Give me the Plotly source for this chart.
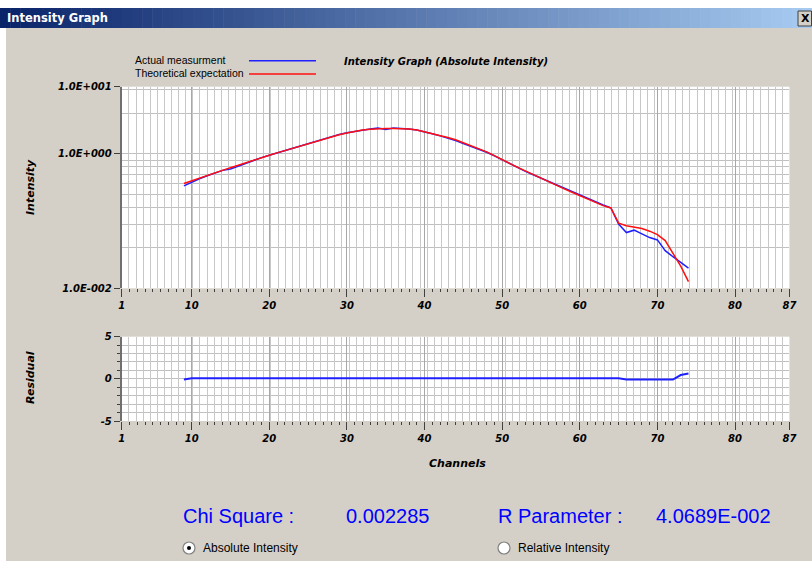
import plotly.graph_objects as go

# ---------------- data ----------------
CHANNELS = list(range(9, 75))

ACTUAL = [0.335, 0.380, 0.427, 0.473, 0.525, 0.569, 0.596, 0.661, 0.733, 0.813,
          0.881, 0.955, 1.035, 1.122, 1.216, 1.318, 1.429, 1.549, 1.679, 1.799,
          1.950, 2.065, 2.173, 2.280, 2.355, 2.427, 2.317, 2.427, 2.410, 2.344,
          2.265, 2.138, 1.995, 1.854, 1.730, 1.585, 1.429, 1.294, 1.175, 1.059,
          0.933, 0.813, 0.716, 0.624, 0.550, 0.490, 0.437, 0.385, 0.343, 0.305,
          0.275, 0.248, 0.221, 0.197, 0.174, 0.158, 0.0902, 0.0676, 0.0733, 0.0646,
          0.0569, 0.0525, 0.0363, 0.0295, 0.0240, 0.0200]

THEORETICAL = [0.363, 0.398, 0.437, 0.484, 0.531, 0.575, 0.624, 0.676, 0.741, 0.813,
               0.881, 0.955, 1.035, 1.122, 1.216, 1.318, 1.419, 1.531, 1.660, 1.786,
               1.928, 2.051, 2.163, 2.265, 2.328, 2.371, 2.388, 2.388, 2.377, 2.344,
               2.265, 2.138, 2.004, 1.862, 1.758, 1.622, 1.472, 1.334, 1.202, 1.072,
               0.944, 0.813, 0.716, 0.631, 0.556, 0.490, 0.437, 0.385, 0.343, 0.302,
               0.269, 0.240, 0.211, 0.191, 0.170, 0.157, 0.0933, 0.0851, 0.0813, 0.0776,
               0.0708, 0.0631, 0.0513, 0.0339, 0.0214, 0.0126]

RESIDUAL = [-0.08] + [0.07] * 56 + [-0.08] * 7 + [0.45, 0.63]

X_TICKS = [1, 10, 20, 30, 40, 50, 60, 70, 80, 87]
Y_TICKS = [0.01, 1, 10]
Y_TICK_TEXT = ["1.0E-002", "1.0E+000", "1.0E+001"]
RES_TICKS = [-5, 0, 5]
RES_TICK_TEXT = ["-5", "0", "5"]

CHI_SQUARE = "0.002285"
R_PARAMETER = "4.0689E-002"

# ---------------- layout helpers ----------------
W, H = 812, 561


def fx(x):
    return x / W


def fy(y):
    return 1 - y / H


X_L, X_R = 121.8, 789.4
TOP_T, TOP_B = 86.7, 288.3
RES_T, RES_B = 336.7, 421.0

GRAY = "#d4d0c8"
GRID = "#c8c8c8"
GRID_H = "#c0c0c0"
GRID_MAJ = "#a8a8a8"
TICKC = "#404040"
BLUE = "#2020ff"
RED = "#ff1010"

TF = dict(family="DejaVu Sans", size=10, color="black", weight="bold", style="italic")

# grid-only positions (styling of the peculiar original grid)
Y_GRID_TOP = [0.01 * k * k for k in range(2, 10)] + [k * k for k in (2, 3)]

fig = go.Figure()

fig.add_trace(go.Scatter(x=CHANNELS, y=ACTUAL, mode="lines", xaxis="x", yaxis="y",
                         line=dict(color=BLUE, width=1.5), name="Actual measurment",
                         showlegend=False))
fig.add_trace(go.Scatter(x=CHANNELS, y=THEORETICAL, mode="lines", xaxis="x", yaxis="y",
                         line=dict(color=RED, width=1.5), name="Theoretical expectation",
                         showlegend=False))
fig.add_trace(go.Scatter(x=CHANNELS, y=RESIDUAL, mode="lines", xaxis="x2", yaxis="y2",
                         line=dict(color=BLUE, width=2), name="Residual", showlegend=False))
# carriers for the grid-only overlay axes
fig.add_trace(go.Scatter(x=[CHANNELS[0]], y=[None], xaxis="x3", yaxis="y",
                         showlegend=False, hoverinfo="skip"))
fig.add_trace(go.Scatter(x=[CHANNELS[0]], y=[None], xaxis="x4", yaxis="y2",
                         showlegend=False, hoverinfo="skip"))


def x_main(anchor):
    return dict(domain=[fx(X_L), fx(X_R)], range=[1, 87], anchor=anchor,
                automargin=False,
                tickmode="array", tickvals=X_TICKS, ticktext=[str(v) for v in X_TICKS],
                ticks="outside", ticklen=8, tickwidth=1, tickcolor=TICKC,
                showgrid=True, gridcolor=GRID_MAJ, gridwidth=1, zeroline=False,
                showline=False, tickfont=TF,
                minor=dict(tickmode="linear", tick0=1, dtick=1, ticks="outside",
                           ticklen=3, tickcolor=TICKC, showgrid=False))


def x_grid(over, anchor):
    return dict(overlaying=over, anchor=anchor, range=[1, 87], tickmode="linear",
                automargin=False,
                tick0=1, dtick=86 / 94, showgrid=True, gridcolor=GRID, gridwidth=1,
                showticklabels=False, ticks="", zeroline=False, showline=False)


fig.update_layout(
    width=W, height=H, autosize=False,
    margin=dict(l=0, r=0, t=0, b=0, pad=0, autoexpand=False),
    paper_bgcolor=GRAY, plot_bgcolor="white",
    showlegend=False,
    xaxis=x_main("y"),
    xaxis2=x_main("y2"),
    xaxis3=x_grid("x", "y"),
    xaxis4=x_grid("x2", "y2"),
    yaxis=dict(domain=[fy(TOP_B), fy(TOP_T)], type="log", range=[-2, 1], anchor="x",
               automargin=False,
               tickmode="array", tickvals=Y_TICKS, ticktext=Y_TICK_TEXT,
               ticks="outside", ticklen=6, tickcolor=TICKC, tickfont=TF,
               showgrid=True, gridcolor=GRID_H, gridwidth=1, zeroline=False,
               showline=True, linecolor="#707070", linewidth=2,
               minor=dict(tickmode="array", tickvals=Y_GRID_TOP, showgrid=True,
                          gridcolor=GRID_H, gridwidth=1, ticks="")),
    yaxis2=dict(domain=[fy(RES_B), fy(RES_T)], range=[-5, 5], anchor="x2",
                automargin=False,
                tickmode="array", tickvals=RES_TICKS, ticktext=RES_TICK_TEXT,
                ticks="outside", ticklen=6, tickcolor=TICKC, tickfont=TF,
                showgrid=True, gridcolor=GRID_H, gridwidth=1, zeroline=False,
                showline=True, linecolor="#707070", linewidth=2,
                minor=dict(tickmode="linear", tick0=0, dtick=1, ticks="outside",
                           ticklen=3, tickcolor=TICKC, showgrid=True,
                           gridcolor=GRID_H, gridwidth=1)),
)

shapes = []
# title bar gradient
N = 80
c0 = (10, 36, 106)
c1 = (166, 202, 240)
for i in range(N):
    t = i / (N - 1)
    col = "rgb(%d,%d,%d)" % tuple(round(a + (b - a) * t) for a, b in zip(c0, c1))
    shapes.append(dict(type="rect", xref="paper", yref="paper",
                       x0=fx(i * W / N), x1=fx(min(W, (i + 1) * W / N + 0.5)),
                       y0=fy(28), y1=fy(8), fillcolor=col, line=dict(width=0)))
# white frame strips
shapes.append(dict(type="rect", xref="paper", yref="paper", x0=0, x1=fx(6),
                   y0=0, y1=fy(28), fillcolor="white", line=dict(width=0)))
shapes.append(dict(type="rect", xref="paper", yref="paper", x0=0, x1=1,
                   y0=fy(8), y1=1, fillcolor="white", line=dict(width=0)))
# close button
shapes.append(dict(type="rect", xref="paper", yref="paper", x0=fx(798), x1=fx(811.5),
                   y0=fy(26), y1=fy(11), fillcolor=GRAY, line=dict(color="#404040", width=1)))
# legend swatches
shapes.append(dict(type="line", xref="paper", yref="paper", x0=fx(249), x1=fx(316),
                   y0=fy(60.7), y1=fy(60.7), line=dict(color=BLUE, width=1.5)))
shapes.append(dict(type="line", xref="paper", yref="paper", x0=fx(249), x1=fx(316),
                   y0=fy(74), y1=fy(74), line=dict(color=RED, width=1.5)))
# radio buttons
for cx, sel in ((189, True), (504, False)):
    shapes.append(dict(type="circle", xref="paper", yref="paper",
                       x0=fx(cx - 6), x1=fx(cx + 6), y0=fy(548 + 6), y1=fy(548 - 6),
                       fillcolor="white", line=dict(color="#808080", width=1.2)))
    if sel:
        shapes.append(dict(type="circle", xref="paper", yref="paper",
                           x0=fx(cx - 2), x1=fx(cx + 2), y0=fy(548 + 2), y1=fy(548 - 2),
                           fillcolor="black", line=dict(color="black", width=0)))
fig.update_layout(shapes=shapes)


def ann(text, x, y, size, color="black", xanchor="left", bold=False, italic=False,
        family="Liberation Sans", angle=0):
    return dict(text=text, x=fx(x), y=fy(y), xref="paper", yref="paper",
                xanchor=xanchor, yanchor="middle", showarrow=False, textangle=angle,
                borderpad=0,
                font=dict(family=family, size=size, color=color,
                          weight="bold" if bold else "normal",
                          style="italic" if italic else "normal"))


annotations = [
    ann("Intensity Graph", 6, 18, 11.5, color="white", bold=True, family="DejaVu Sans"),
    ann("X", 805, 18.5, 11, xanchor="center", bold=True, family="DejaVu Sans"),
    ann("Actual measurment", 134, 60, 10.5),
    ann("Theoretical expectation", 134, 73.5, 10.5),
    ann("Intensity Graph (Absolute Intensity)", 343, 62, 10, bold=True, italic=True,
        family="DejaVu Sans"),
    ann("Intensity", 31, 187, 11, xanchor="center", bold=True, italic=True,
        family="DejaVu Sans", angle=-90),
    ann("Residual", 30, 378, 11, xanchor="center", bold=True, italic=True,
        family="DejaVu Sans", angle=-90),
    ann("Channels", 457, 463, 11, xanchor="center", bold=True, italic=True,
        family="DejaVu Sans"),
    ann("Chi Square :", 182, 516, 20, color="#0000ff"),
    ann(CHI_SQUARE, 345, 516, 20, color="#0000ff"),
    ann("R Parameter :", 497, 516, 20, color="#0000ff"),
    ann(R_PARAMETER, 655, 516, 20, color="#0000ff"),
    ann("Absolute Intensity", 202, 548, 12),
    ann("Relative Intensity", 517, 548, 12),
]
fig.update_layout(annotations=annotations)

fig.write_html(
    "out.html",
    config={"displayModeBar": False},
    post_script=("document.body.style.margin='0';"
                 "document.documentElement.style.overflow='hidden';"
                 "document.body.style.overflow='hidden';"),
)
